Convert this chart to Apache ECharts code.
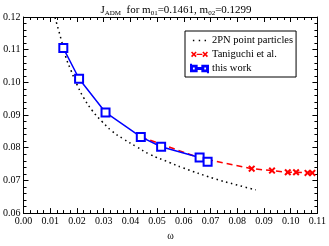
<!DOCTYPE html>
<html><head><meta charset="utf-8">
<script src="https://cdn.jsdelivr.net/npm/echarts@6/dist/echarts.min.js"></script>
<style>html,body{margin:0;padding:0;background:#fff}#c{width:329px;height:246px}</style>
</head><body><div id="c"></div>
<script>
// 2PN point particles (dotted curve)
const pnOmega = [0.0118, 0.0140, 0.0159, 0.0177, 0.0202, 0.0226, 0.0257, 0.0294, 0.0331, 0.0374, 0.0423, 0.0472, 0.0546, 0.0595, 0.0712, 0.0790, 0.0869];
const pnJ     = [0.1198, 0.1134, 0.1076, 0.1038, 0.0990, 0.0952, 0.0914, 0.0880, 0.0851, 0.0827, 0.0803, 0.0780, 0.0755, 0.0739, 0.0706, 0.0688, 0.0671];
// Taniguchi et al.
const tanOmega = [0.0439, 0.0659, 0.0854, 0.0930, 0.0989, 0.1020, 0.1063, 0.1081];
const tanJ     = [0.0833, 0.0769, 0.0736, 0.0730, 0.0725, 0.0725, 0.0723, 0.0723];
// this work
const workOmega = [0.0149, 0.0208, 0.0307, 0.0439, 0.0515, 0.0659, 0.0689];
const workJ     = [0.1105, 0.1011, 0.0908, 0.0833, 0.0803, 0.0770, 0.0757];
// axis ticks
const xTicks = {min: 0, max: 0.11, interval: 0.01};
const yTicks = {min: 0.06, max: 0.12, interval: 0.01};

const zip = (a, b) => a.map((v, i) => [v, b[i]]);
const serif = 'Liberation Serif';
const xShape = 'path://M0,2L2,0L5,3L8,0L10,2L7,5L10,8L8,10L5,7L2,10L0,8L3,5Z';
const corners = 'M0,0h0.05v0.05h-0.05zM17.95,7.95h0.05v0.05h-0.05z';
const iconDots = 'path://' + corners + 'M2,3.3h1.5v1.5h-1.5zM8.2,3.3h1.5v1.5h-1.5zM14.4,3.3h1.5v1.5h-1.5z';
const iconCross = 'path://' + corners +
  'M0,2L1.2,0.8L3,2.6L4.8,0.8L6,2L4.2,3.8L6,5.6L4.8,6.8L3,5L1.2,6.8L0,5.6L1.8,3.8Z' +
  'M12,2L13.2,0.8L15,2.6L16.8,0.8L18,2L16.2,3.8L18,5.6L16.8,6.8L15,5L13.2,6.8L12,5.6L13.8,3.8Z' +
  'M6,3.2h6v1.2h-6z';
const iconSquares = 'path://' + corners +
  'M0,1h6v6h-6zM1,2v4h4v-4z' +
  'M12,1h6v6h-6zM13,2v4h4v-4z' +
  'M6,3.4h6v1.2h-6z';

const line = {show: true, onZero: false, lineStyle: {color: '#000', width: 1}};
const tick = {show: true, inside: true, length: 5, lineStyle: {color: '#000'}};
const minor = n => ({show: true, splitNumber: n, length: 3, lineStyle: {color: '#000'}});
const lbl = {fontFamily: serif, fontSize: 10, color: '#000', margin: 3, formatter: v => v.toFixed(2)};

const chart = echarts.init(document.getElementById('c'));
chart.setOption({
  animation: false,
  backgroundColor: '#fff',
  title: {
    text: '{b|J}{s|ADM}{b|  for m}{s|01}{b|=0.1461, m}{s|02}{b|=0.1299}',
    left: 171, top: 0, textAlign: 'center',
    textStyle: {
      fontWeight: 'normal',
      rich: {
        b: {fontFamily: serif, fontSize: 11, fontWeight: 'normal', color: '#000', verticalAlign: 'top', lineHeight: 12},
        s: {fontFamily: serif, fontSize: 7, fontWeight: 'normal', color: '#000', verticalAlign: 'bottom', lineHeight: 8, height: 8}
      }
    }
  },
  grid: {left: 22, right: 9, top: 17, bottom: 20, containLabel: false},
  legend: {
    orient: 'vertical', left: 185, top: 31,
    borderColor: '#000', borderWidth: 1, borderRadius: 0,
    padding: [4, 3, 3, 5],
    itemGap: 3, itemWidth: 17, itemHeight: 8,
    textStyle: {fontFamily: serif, fontSize: 10.5, color: '#000', lineHeight: 9, padding: [0, 0, 0, -1]},
    data: [
      {name: '2PN point particles', icon: iconDots},
      {name: 'Taniguchi et al.', icon: iconCross},
      {name: 'this work', icon: iconSquares}
    ]
  },
  xAxis: [
    {type: 'value', min: xTicks.min, max: xTicks.max, interval: xTicks.interval,
      name: 'ω', nameLocation: 'middle', nameGap: 12,
      nameTextStyle: {fontFamily: serif, fontSize: 10, color: '#000'},
      axisLine: line, axisTick: tick, minorTick: minor(4), splitLine: {show: false}, axisLabel: lbl},
    {type: 'value', position: 'top', min: xTicks.min, max: xTicks.max, interval: xTicks.interval,
      axisLine: line, axisTick: tick, minorTick: minor(4), splitLine: {show: false}, axisLabel: {show: false}}
  ],
  yAxis: [
    {type: 'value', min: yTicks.min, max: yTicks.max, interval: yTicks.interval,
      axisLine: line, axisTick: tick, minorTick: minor(5), splitLine: {show: false}, axisLabel: lbl},
    {type: 'value', position: 'right', min: yTicks.min, max: yTicks.max, interval: yTicks.interval,
      axisLine: line, axisTick: tick, minorTick: minor(5), splitLine: {show: false}, axisLabel: {show: false}}
  ],
  series: [
    {
      name: '2PN point particles', type: 'line', smooth: true,
      data: zip(pnOmega, pnJ), showSymbol: false, symbol: 'none',
      lineStyle: {color: '#000', width: 1.5, type: [1.5, 3.5]},
      itemStyle: {color: '#000'}
    },
    {
      name: 'Taniguchi et al.', type: 'line',
      data: zip(tanOmega, tanJ), symbol: xShape, symbolSize: 7,
      lineStyle: {color: '#ff0000', width: 1.5, type: [6, 4]},
      itemStyle: {color: '#ff0000'}
    },
    {
      name: 'this work', type: 'line', z: 3,
      data: zip(workOmega, workJ), symbol: 'emptyRect', symbolSize: 8,
      lineStyle: {color: '#0000ff', width: 1.5},
      itemStyle: {color: '#0000ff', borderColor: '#0000ff', borderWidth: 1.2}
    }
  ]
});
</script></body></html>
